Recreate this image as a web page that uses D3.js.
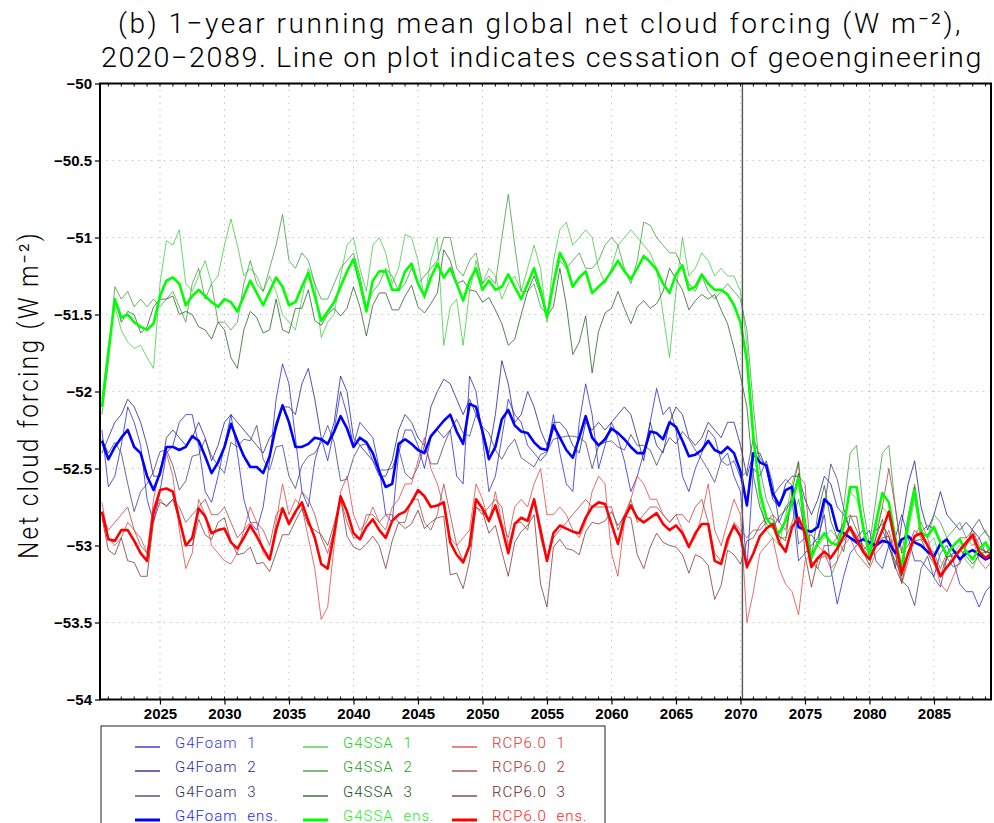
<!DOCTYPE html>
<html><head><meta charset="utf-8">
<script src="https://cdn.jsdelivr.net/npm/d3@7"></script>
<style>body{margin:0;background:#fff}svg{display:block}</style>
</head><body>
<script>
// ---- data (1-year running mean, sampled every half year from 2020.5 to 2089.5) ----
const startYear = 2020.5, stepYear = 0.5;
const xTicks = [2025,2030,2035,2040,2045,2050,2055,2060,2065,2070,2075,2080,2085];
const yTicks = [-54,-53.5,-53,-52.5,-52,-51.5,-51,-50.5,-50];
const yTickLabels = ["-54","-53.5","-53","-52.5","-52","-51.5","-51","-50.5","-50"];
const cessationYear = 2070.15;

const g4foam1 = [-52.25,-52.62,-52.55,-52.35,-52.10,-52.20,-52.35,-52.70,-52.85,-52.65,
-52.40,-52.35,-52.20,-52.15,-52.15,-52.35,-52.65,-52.72,-52.55,-52.35,
-52.15,-52.40,-52.70,-52.85,-52.90,-52.75,-52.45,-52.05,-51.82,-51.95,
-52.30,-52.65,-52.75,-52.45,-52.30,-52.45,-52.25,-52.00,-52.15,-52.35,
-52.20,-52.25,-52.30,-52.50,-52.80,-52.85,-52.40,-52.25,-52.25,-52.35,
-52.50,-52.30,-52.25,-52.30,-52.25,-52.55,-52.60,-51.90,-52.00,-52.30,
-52.65,-52.55,-52.30,-52.05,-52.15,-52.20,-52.35,-52.40,-52.45,-52.40,
-52.15,-52.40,-52.60,-52.65,-52.20,-51.95,-52.15,-52.50,-52.35,-52.20,
-52.30,-52.45,-52.65,-52.55,-52.40,-52.20,-51.98,-52.15,-52.10,-52.25,
-52.55,-52.65,-52.50,-52.40,-52.25,-52.30,-52.45,-52.40,-52.55,-52.65,
-53.15,-52.50,-52.55,-52.45,-52.60,-52.85,-52.75,-52.70,-53.10,-53.05,
-53.00,-52.95,-52.80,-53.15,-53.38,-53.20,-53.05,-53.00,-52.95,-52.90,
-53.10,-53.15,-53.00,-52.95,-52.80,-52.95,-53.10,-53.10,-53.15,-53.20,
-53.05,-53.00,-53.10,-53.25,-53.30,-53.30,-53.40,-53.30,-53.25];
const g4foam2 = [-52.40,-52.30,-52.20,-52.15,-52.05,-52.10,-52.20,-52.35,-52.55,-52.55,
-52.30,-52.25,-52.30,-52.35,-52.30,-52.20,-52.30,-52.45,-52.35,-52.20,
-52.15,-52.20,-52.25,-52.30,-52.35,-52.40,-52.30,-52.25,-52.10,-52.10,
-52.15,-51.95,-51.85,-52.05,-52.30,-52.35,-52.20,-51.90,-52.00,-52.30,
-52.35,-52.40,-52.45,-52.55,-52.55,-52.45,-52.25,-52.15,-52.20,-52.30,
-52.35,-52.10,-52.00,-51.92,-51.95,-52.05,-52.15,-52.05,-52.15,-52.25,
-52.40,-52.15,-51.80,-51.95,-52.20,-52.15,-52.00,-52.10,-52.25,-52.35,
-52.20,-52.20,-52.25,-52.35,-52.40,-52.20,-52.25,-52.20,-52.25,-52.20,
-52.15,-52.10,-52.15,-52.30,-52.45,-52.20,-52.35,-52.40,-52.20,-52.10,
-52.15,-52.30,-52.35,-52.30,-52.20,-52.25,-52.30,-52.20,-52.20,-52.35,
-52.55,-52.40,-52.40,-52.50,-52.70,-52.75,-52.60,-52.55,-52.55,-52.70,
-52.80,-52.70,-52.55,-52.60,-52.75,-52.80,-52.90,-52.95,-52.90,-53.05,
-53.00,-52.90,-53.00,-53.15,-52.85,-52.60,-52.45,-52.75,-52.90,-52.80,
-52.65,-52.80,-52.85,-52.90,-52.85,-52.90,-52.95,-53.05,-53.00];
const g4foam3 = [-52.31,-52.40,-52.33,-52.40,-52.60,-52.78,-52.65,-52.60,-52.52,-52.39,
-52.38,-52.48,-52.64,-52.58,-52.42,-52.41,-52.31,-52.42,-52.48,-52.53,
-52.33,-52.36,-52.31,-52.32,-52.22,-52.44,-52.51,-52.36,-52.35,-52.55,
-52.63,-52.48,-52.42,-52.40,-52.33,-52.22,-52.33,-52.58,-52.57,-52.43,
-52.35,-52.34,-52.45,-52.51,-52.51,-52.50,-52.37,-52.53,-52.57,-52.49,
-52.35,-52.47,-52.47,-52.35,-52.25,-52.18,-52.27,-52.29,-52.15,-52.23,
-52.27,-52.38,-52.44,-52.36,-52.31,-52.43,-52.46,-52.49,-52.41,-52.39,
-52.31,-52.30,-52.29,-52.29,-52.30,-52.33,-52.50,-52.35,-52.33,-52.32,
-52.36,-52.38,-52.28,-52.35,-52.35,-52.38,-52.48,-52.38,-52.30,-52.34,
-52.26,-52.31,-52.38,-52.44,-52.51,-52.59,-52.45,-52.48,-52.45,-52.56,
-52.52,-52.30,-52.43,-52.49,-52.68,-52.62,-52.57,-52.61,-52.99,-52.95,
-52.93,-52.99,-52.75,-52.47,-52.57,-52.76,-52.90,-52.99,-53.03,-52.99,
-52.90,-52.86,-52.94,-53.05,-53.23,-53.27,-53.39,-53.15,-53.07,-53.21,
-53.27,-53.08,-53.14,-53.12,-53.00,-52.89,-52.83,-52.92,-52.96];
const g4foamEns = [-52.32,-52.44,-52.36,-52.30,-52.25,-52.36,-52.40,-52.55,-52.64,-52.53,
-52.36,-52.36,-52.38,-52.36,-52.29,-52.32,-52.42,-52.53,-52.46,-52.36,
-52.21,-52.32,-52.42,-52.49,-52.49,-52.53,-52.42,-52.22,-52.09,-52.20,
-52.36,-52.36,-52.34,-52.30,-52.31,-52.34,-52.26,-52.16,-52.24,-52.36,
-52.30,-52.33,-52.40,-52.52,-52.62,-52.60,-52.34,-52.31,-52.34,-52.38,
-52.40,-52.29,-52.24,-52.19,-52.15,-52.26,-52.34,-52.08,-52.10,-52.26,
-52.44,-52.36,-52.18,-52.12,-52.22,-52.26,-52.27,-52.33,-52.37,-52.38,
-52.22,-52.30,-52.38,-52.43,-52.30,-52.16,-52.30,-52.35,-52.31,-52.24,
-52.27,-52.31,-52.36,-52.40,-52.40,-52.26,-52.27,-52.31,-52.20,-52.23,
-52.32,-52.42,-52.41,-52.38,-52.32,-52.38,-52.40,-52.36,-52.40,-52.52,
-52.74,-52.40,-52.46,-52.48,-52.66,-52.74,-52.64,-52.62,-52.88,-52.90,
-52.91,-52.88,-52.70,-52.74,-52.90,-52.92,-52.95,-52.98,-52.96,-52.98,
-53.00,-52.97,-52.98,-53.05,-52.96,-52.94,-52.98,-53.00,-53.04,-53.07,
-52.99,-52.96,-53.03,-53.09,-53.05,-53.03,-53.06,-53.09,-53.07];

const g4ssa1 = [-52.05,-51.70,-51.45,-51.60,-51.68,-51.72,-51.70,-51.78,-51.85,-51.30,
-51.02,-51.05,-50.95,-51.30,-51.35,-51.25,-51.15,-51.30,-51.25,-51.05,
-50.88,-51.05,-51.25,-51.20,-51.25,-51.35,-51.25,-51.35,-51.50,-51.55,
-51.60,-51.40,-51.20,-51.30,-51.65,-51.55,-51.50,-51.25,-51.05,-51.00,
-51.20,-51.35,-51.05,-51.00,-51.10,-51.30,-51.20,-50.98,-51.00,-51.15,
-51.40,-51.15,-51.00,-51.70,-51.45,-51.40,-51.70,-51.35,-51.15,-51.30,
-51.20,-51.25,-51.40,-51.30,-51.25,-51.35,-51.20,-51.05,-51.20,-51.55,
-51.15,-50.95,-50.90,-51.05,-51.00,-50.95,-51.00,-51.20,-51.30,-51.20,
-51.05,-51.00,-50.95,-51.00,-51.05,-51.10,-51.20,-51.50,-51.78,-51.35,
-51.00,-51.25,-51.20,-51.10,-51.15,-51.25,-51.20,-51.25,-51.25,-51.35,
-51.70,-52.25,-52.70,-52.90,-52.95,-53.00,-52.80,-52.60,-52.45,-52.85,
-53.05,-53.00,-52.95,-52.90,-52.95,-52.85,-52.65,-52.70,-52.85,-53.05,
-52.90,-52.75,-52.80,-53.00,-53.20,-52.90,-52.70,-52.95,-53.00,-52.95,
-53.10,-53.15,-53.05,-53.00,-53.10,-53.15,-53.05,-53.00,-53.10];
const g4ssa2 = [-52.15,-51.80,-51.32,-51.40,-51.35,-51.45,-51.40,-51.45,-51.40,-51.45,
-51.40,-51.35,-51.45,-51.55,-51.30,-51.20,-51.40,-51.30,-51.55,-51.55,
-51.60,-51.55,-51.30,-51.15,-51.30,-51.35,-51.20,-51.05,-50.85,-51.15,
-51.20,-51.10,-51.15,-51.30,-51.40,-51.40,-51.30,-51.20,-51.15,-51.10,
-51.25,-51.45,-51.35,-51.30,-51.20,-51.25,-51.35,-51.30,-51.20,-51.30,
-51.25,-51.20,-51.15,-51.00,-51.00,-51.20,-51.25,-51.15,-51.10,-51.30,
-51.25,-51.30,-51.00,-50.72,-51.05,-51.35,-51.35,-51.30,-51.45,-51.50,
-51.30,-51.15,-51.20,-51.15,-51.10,-51.20,-51.20,-51.15,-51.05,-51.00,
-51.05,-51.20,-51.30,-51.15,-50.90,-50.92,-51.00,-51.05,-51.10,-51.10,
-51.20,-51.30,-51.35,-51.25,-51.35,-51.40,-51.35,-51.30,-51.35,-51.40,
-51.60,-52.10,-52.50,-52.70,-52.80,-52.95,-52.95,-52.85,-52.70,-52.90,
-53.10,-53.15,-53.20,-53.20,-53.10,-52.75,-52.40,-52.35,-52.75,-53.00,
-52.70,-52.40,-52.35,-52.75,-53.05,-52.80,-52.60,-52.90,-52.95,-52.80,
-52.85,-52.95,-52.90,-52.85,-52.95,-53.00,-52.95,-52.90,-53.00];
const g4ssa3 = [-52.10,-51.75,-51.40,-51.55,-51.48,-51.50,-51.62,-51.58,-51.45,-51.40,
-51.40,-51.38,-51.50,-51.48,-51.50,-51.58,-51.60,-51.66,-51.55,-51.60,
-51.78,-51.85,-51.60,-51.48,-51.52,-51.62,-51.60,-51.40,-51.60,-51.62,
-51.46,-51.46,-51.34,-51.54,-51.57,-51.50,-51.46,-51.51,-51.46,-51.32,
-51.45,-51.64,-51.44,-51.36,-51.36,-51.47,-51.47,-51.38,-51.31,-51.45,
-51.49,-51.43,-51.36,-51.08,-51.15,-51.30,-51.28,-51.34,-51.35,-51.42,
-51.39,-51.47,-51.56,-51.70,-51.66,-51.50,-51.35,-51.25,-51.37,-51.51,
-51.45,-51.20,-51.44,-51.76,-51.68,-51.51,-51.88,-51.61,-51.49,-51.46,
-51.35,-51.46,-51.56,-51.45,-51.41,-51.46,-51.43,-51.35,-51.20,-51.27,
-51.34,-51.47,-51.41,-51.37,-51.40,-51.37,-51.47,-51.56,-51.72,-51.90,
-52.10,-52.55,-52.75,-52.86,-52.89,-52.81,-52.77,-52.71,-52.53,-52.83,
-53.09,-52.79,-52.61,-52.84,-52.95,-53.04,-52.81,-52.81,-53.04,-53.13,
-52.95,-52.83,-53.01,-53.10,-53.20,-52.85,-52.62,-52.91,-52.87,-52.89,
-52.99,-53.08,-53.05,-53.03,-53.07,-53.12,-53.06,-53.04,-53.05];
const g4ssaEns = [-52.10,-51.75,-51.40,-51.52,-51.50,-51.55,-51.58,-51.60,-51.56,-51.38,
-51.28,-51.26,-51.30,-51.44,-51.38,-51.34,-51.38,-51.42,-51.45,-51.40,
-51.42,-51.48,-51.38,-51.28,-51.36,-51.44,-51.35,-51.26,-51.32,-51.44,
-51.42,-51.32,-51.23,-51.38,-51.54,-51.48,-51.42,-51.32,-51.22,-51.14,
-51.30,-51.48,-51.28,-51.22,-51.22,-51.34,-51.34,-51.22,-51.17,-51.30,
-51.38,-51.26,-51.17,-51.26,-51.20,-51.30,-51.41,-51.28,-51.20,-51.34,
-51.28,-51.34,-51.32,-51.24,-51.32,-51.40,-51.30,-51.20,-51.34,-51.52,
-51.30,-51.10,-51.18,-51.32,-51.26,-51.22,-51.36,-51.32,-51.28,-51.22,
-51.15,-51.22,-51.27,-51.20,-51.12,-51.16,-51.21,-51.30,-51.36,-51.24,
-51.18,-51.34,-51.32,-51.24,-51.30,-51.34,-51.34,-51.37,-51.44,-51.55,
-51.80,-52.30,-52.65,-52.82,-52.88,-52.92,-52.84,-52.72,-52.56,-52.86,
-53.08,-52.98,-52.92,-52.98,-53.00,-52.88,-52.62,-52.62,-52.88,-53.06,
-52.85,-52.66,-52.72,-52.95,-53.15,-52.85,-52.64,-52.92,-52.94,-52.88,
-52.98,-53.06,-53.00,-52.96,-53.04,-53.09,-53.02,-52.98,-53.05];

const rcp1 = [-52.72,-52.95,-53.00,-52.95,-52.85,-52.90,-52.95,-53.05,-52.70,-52.50,
-52.40,-52.55,-52.90,-53.15,-53.05,-52.70,-52.80,-53.00,-53.05,-53.10,
-53.12,-53.05,-52.90,-52.75,-52.85,-53.05,-53.10,-52.85,-52.60,-52.80,
-52.70,-52.75,-52.95,-53.15,-53.48,-53.40,-53.00,-52.65,-52.55,-52.80,
-52.90,-52.85,-52.75,-52.85,-52.90,-52.75,-52.70,-52.60,-52.60,-52.45,
-52.30,-52.50,-52.60,-52.75,-52.95,-53.00,-52.95,-52.90,-52.60,-52.70,
-52.85,-52.65,-52.85,-52.95,-52.75,-52.70,-52.75,-52.60,-52.50,-52.80,
-52.80,-52.75,-52.80,-52.90,-52.95,-52.85,-52.65,-52.55,-52.60,-53.05,
-53.20,-52.85,-52.70,-52.55,-52.60,-52.70,-52.70,-52.80,-52.85,-52.80,
-52.90,-53.00,-52.95,-52.80,-52.60,-52.90,-53.00,-52.85,-52.70,-52.80,
-53.50,-53.30,-53.05,-53.00,-52.95,-53.15,-53.25,-53.30,-53.45,-53.10,
-53.05,-53.00,-53.05,-53.15,-53.10,-53.00,-52.95,-53.05,-53.10,-53.15,
-53.05,-53.00,-52.90,-53.05,-53.25,-53.10,-52.95,-52.85,-52.95,-53.10,
-53.25,-53.30,-53.20,-53.10,-53.00,-52.95,-53.10,-53.15,-53.10];
const rcp2 = [-52.80,-52.90,-52.85,-52.80,-52.75,-52.90,-53.00,-53.05,-52.80,-52.70,
-52.75,-52.70,-52.75,-52.85,-52.80,-52.75,-52.70,-52.80,-52.80,-52.75,
-52.85,-52.95,-52.90,-52.85,-52.85,-52.90,-53.00,-52.80,-52.75,-52.85,
-52.80,-52.65,-52.70,-52.80,-52.95,-53.05,-52.90,-52.70,-52.85,-52.95,
-52.95,-52.80,-52.80,-52.85,-52.80,-52.80,-52.85,-52.85,-52.70,-52.70,
-52.85,-52.90,-52.80,-52.60,-52.80,-53.00,-53.10,-53.00,-52.75,-52.80,
-52.75,-52.70,-52.75,-53.00,-52.85,-52.85,-52.90,-52.70,-52.95,-53.10,
-52.95,-52.90,-52.85,-52.80,-52.75,-52.70,-52.75,-52.75,-52.75,-52.75,
-52.90,-52.80,-52.70,-52.85,-52.80,-52.75,-52.75,-52.80,-52.85,-52.80,
-52.80,-52.85,-52.75,-52.70,-52.85,-53.05,-53.10,-53.00,-52.85,-52.90,
-52.95,-52.90,-52.90,-52.85,-52.80,-52.85,-52.90,-52.70,-52.55,-52.60,
-53.10,-53.15,-53.00,-53.00,-52.95,-52.85,-52.80,-52.90,-53.00,-53.05,
-52.95,-52.75,-52.50,-52.75,-53.05,-53.00,-52.90,-52.95,-53.00,-53.05,
-53.15,-53.05,-53.00,-52.95,-52.95,-52.90,-53.00,-53.05,-53.00];
const rcp3 = [-52.82,-53.03,-53.06,-52.95,-53.10,-53.11,-53.20,-53.20,-52.84,-52.72,
-52.74,-52.70,-52.84,-53.00,-53.00,-52.83,-52.93,-52.96,-52.85,-52.82,
-52.97,-53.06,-53.05,-53.01,-53.12,-53.11,-53.17,-53.05,-52.93,-52.93,
-52.84,-52.76,-52.87,-52.90,-52.93,-53.00,-52.86,-52.69,-52.94,-53.01,
-53.03,-52.99,-52.94,-53.00,-53.15,-52.97,-52.85,-52.89,-52.86,-52.77,
-52.89,-52.85,-52.82,-52.81,-53.19,-53.18,-53.28,-53.10,-52.75,-52.78,
-52.92,-52.87,-53.04,-53.20,-52.98,-52.91,-52.87,-52.80,-53.25,-53.40,
-53.01,-52.96,-53.02,-53.03,-53.06,-52.91,-52.85,-52.86,-52.84,-52.78,
-52.87,-52.81,-52.82,-53.06,-53.15,-53.01,-52.92,-52.98,-53.00,-53.01,
-53.06,-53.18,-53.06,-53.08,-53.13,-53.35,-53.26,-53.03,-53.06,-53.12,
-52.97,-52.95,-52.87,-52.82,-52.83,-52.94,-52.97,-52.64,-52.46,-53.06,
-53.27,-53.09,-53.07,-53.09,-53.01,-52.97,-52.89,-52.93,-53.02,-53.07,
-53.00,-52.95,-52.94,-53.14,-53.24,-53.05,-52.97,-52.96,-53.05,-53.12,
-53.20,-53.07,-53.07,-53.04,-52.99,-52.94,-53.02,-53.04,-53.05];
const rcpEns = [-52.78,-52.96,-52.97,-52.90,-52.90,-52.97,-53.05,-53.10,-52.78,-52.64,
-52.63,-52.65,-52.83,-53.00,-52.95,-52.76,-52.81,-52.92,-52.90,-52.89,
-52.98,-53.02,-52.95,-52.87,-52.94,-53.02,-53.09,-52.90,-52.76,-52.86,
-52.78,-52.72,-52.84,-52.95,-53.12,-53.15,-52.92,-52.68,-52.78,-52.92,
-52.96,-52.88,-52.83,-52.90,-52.95,-52.84,-52.80,-52.78,-52.72,-52.64,
-52.68,-52.75,-52.74,-52.72,-52.98,-53.06,-53.11,-53.00,-52.70,-52.76,
-52.84,-52.74,-52.88,-53.05,-52.86,-52.82,-52.84,-52.70,-52.90,-53.10,
-52.92,-52.87,-52.89,-52.91,-52.92,-52.82,-52.75,-52.72,-52.73,-52.86,
-52.99,-52.82,-52.74,-52.82,-52.85,-52.82,-52.79,-52.86,-52.90,-52.87,
-52.92,-53.01,-52.92,-52.86,-52.86,-53.10,-53.12,-52.96,-52.87,-52.94,
-53.14,-53.05,-52.94,-52.89,-52.86,-52.98,-53.04,-52.88,-52.82,-52.92,
-53.14,-53.08,-53.04,-53.08,-53.02,-52.94,-52.88,-52.96,-53.04,-53.09,
-53.00,-52.90,-52.78,-52.98,-53.18,-53.05,-52.94,-52.92,-53.00,-53.09,
-53.20,-53.14,-53.09,-53.03,-52.98,-52.93,-53.04,-53.08,-53.05];

const seriesNames = ["G4Foam 1","G4Foam 2","G4Foam 3","G4Foam ens.",
                     "G4SSA 1","G4SSA 2","G4SSA 3","G4SSA ens.",
                     "RCP6.0 1","RCP6.0 2","RCP6.0 3","RCP6.0 ens."];
const seriesValues = [g4foam1,g4foam2,g4foam3,g4foamEns,g4ssa1,g4ssa2,g4ssa3,g4ssaEns,rcp1,rcp2,rcp3,rcpEns];

// ---- styles ----
const lineColors = ["#2222d4","#1c1c8a","#3c3c70","#0000ff",
                    "#3ccc3c","#3a9a3a","#1e5e1e","#00ff00",
                    "#e04040","#a83c3c","#7a3030","#ff0000"];
const textColors = ["#3434f0","#2a2aa8","#30305e","#2222ff",
                    "#22d022","#2a9e2a","#1e521e","#22f022",
                    "#e03434","#a03030","#6e2828","#ff1a1a"];
const isEns = [false,false,false,true,false,false,false,true,false,false,false,true];

const W = 994, H = 823;
const svg = d3.select("body").append("svg").attr("width", W).attr("height", H)
  .style("font-family", "'Liberation Sans', Arial, Helvetica, sans-serif");

const x = d3.scaleLinear().domain([2020.35, 2089.42]).range([100, 991]);
const y = d3.scaleLinear().domain([-54, -50]).range([699.5, 83.5]);
const [x0, x1] = x.range(), [yb, yt] = y.range();

// grid
const grid = svg.append("g").attr("stroke", "#b8b8b8").attr("stroke-width", 1).attr("stroke-dasharray", "1.2,5.2");
grid.selectAll("line.gx").data(xTicks).join("line")
  .attr("x1", d => x(d)).attr("x2", d => x(d)).attr("y1", yt).attr("y2", yb);
grid.selectAll("line.gy").data(yTicks.slice(1, -1)).join("line")
  .attr("x1", x0).attr("x2", x1).attr("y1", d => y(d)).attr("y2", d => y(d));

// clip
svg.append("clipPath").attr("id", "clip").append("rect")
  .attr("x", x0).attr("y", yt).attr("width", x1 - x0).attr("height", yb - yt);

const line = d3.line().x((d, i) => x(startYear + i * stepYear)).y(d => y(d));
const plot = svg.append("g").attr("clip-path", "url(#clip)");
const order = [0,1,2,4,5,6,8,9,10,3,7,11];
order.forEach(k => {
  plot.append("path").datum(seriesValues[k])
    .attr("fill", "none")
    .attr("stroke", lineColors[k])
    .attr("stroke-width", isEns[k] ? 2.6 : 0.9)
    .attr("stroke-opacity", isEns[k] ? 1 : 0.85)
    .attr("stroke-linejoin", "round")
    .attr("d", line);
});

// cessation line
svg.append("line").attr("x1", x(cessationYear)).attr("x2", x(cessationYear))
  .attr("y1", yt).attr("y2", yb).attr("stroke", "#555").attr("stroke-width", 1.4);

// frame
svg.append("rect").attr("x", x0).attr("y", yt).attr("width", x1 - x0).attr("height", yb - yt)
  .attr("fill", "none").attr("stroke", "#000").attr("stroke-width", 2);

// minor ticks on top and bottom
const minor = d3.range(2021, 2090);
svg.append("g").selectAll("line").data(minor).join("line")
  .attr("x1", d => x(d)).attr("x2", d => x(d)).attr("y1", yb).attr("y2", yb - 3)
  .attr("stroke", "#000").attr("stroke-width", 1);
svg.append("g").selectAll("line").data(minor).join("line")
  .attr("x1", d => x(d)).attr("x2", d => x(d)).attr("y1", yt).attr("y2", yt + 3)
  .attr("stroke", "#000").attr("stroke-width", 1);

// axes
const xAxis = d3.axisBottom(x).tickValues(xTicks).tickFormat(d3.format("d")).tickSize(5).tickPadding(4);
const gx = svg.append("g").attr("transform", `translate(0,${yb})`).call(xAxis);
gx.select(".domain").remove();
gx.selectAll("text").attr("font-size", 15).attr("font-weight", "bold").attr("fill", "#000")
  .attr("font-family", "'Liberation Sans', Arial, sans-serif");
gx.selectAll(".tick line").attr("stroke", "#000").attr("stroke-width", 1.2);

const yAxis = d3.axisLeft(y).tickValues(yTicks).tickFormat((d, i) => yTickLabels[i].replace("-", "\u2212")).tickSize(5).tickPadding(3);
const gy = svg.append("g").attr("transform", `translate(${x0},0)`).call(yAxis);
gy.select(".domain").remove();
gy.selectAll("text").attr("font-size", 15).attr("font-weight", "bold").attr("fill", "#000")
  .attr("font-family", "'Liberation Sans', Arial, sans-serif");
gy.selectAll(".tick line").attr("stroke", "#000").attr("stroke-width", 1.2);

// title (thin, letter-spaced, condensed look)
const tfont = "Roboto, 'Liberation Sans', Arial, sans-serif";
svg.append("text").attr("x", 118).attr("y", 33).attr("font-size", 28).attr("font-family", tfont)
  .attr("font-weight", 300).attr("letter-spacing", 2.5)
  .attr("textLength", 845).attr("lengthAdjust", "spacingAndGlyphs").attr("fill", "#000")
  .text("(b) 1\u2212year running mean global net cloud forcing (W m\u207B\u00B2),");
svg.append("text").attr("x", 101).attr("y", 67).attr("font-size", 27).attr("font-family", tfont)
  .attr("font-weight", 300).attr("letter-spacing", 1.5)
  .attr("textLength", 882).attr("lengthAdjust", "spacingAndGlyphs").attr("fill", "#000")
  .text("2020\u22122089. Line on plot indicates cessation of geoengineering");

// y label
svg.append("text").attr("transform", "translate(38,395) rotate(-90)")
  .attr("text-anchor", "middle").attr("font-size", 27).attr("font-family", tfont)
  .attr("font-weight", 300).attr("letter-spacing", 2.5)
  .attr("textLength", 328).attr("lengthAdjust", "spacingAndGlyphs").attr("fill", "#000")
  .text("Net cloud forcing (W m\u207B\u00B2)");

// legend
svg.append("rect").attr("x", 101).attr("y", 726).attr("width", 504).attr("height", 110)
  .attr("fill", "#fff").attr("stroke", "#222").attr("stroke-width", 1);
const colX = [135, 303, 452];
const rowY = [742, 766, 791, 815];
seriesNames.forEach((name, k) => {
  const c = Math.floor(k / 4), r = k % 4;
  const lx = colX[c], ly = rowY[r];
  svg.append("line").attr("x1", lx).attr("x2", lx + 25).attr("y1", ly + 5).attr("y2", ly + 5)
    .attr("stroke", lineColors[k]).attr("stroke-width", isEns[k] ? 3 : 1.3);
  svg.append("text").attr("x", lx + 40).attr("y", ly + 5.5).attr("font-size", 15)
    .attr("font-family", tfont).attr("font-weight", 300)
    .attr("letter-spacing", 1).attr("word-spacing", 5)
    .attr("fill", textColors[k]).text(name);
});
</script>
</body></html>
